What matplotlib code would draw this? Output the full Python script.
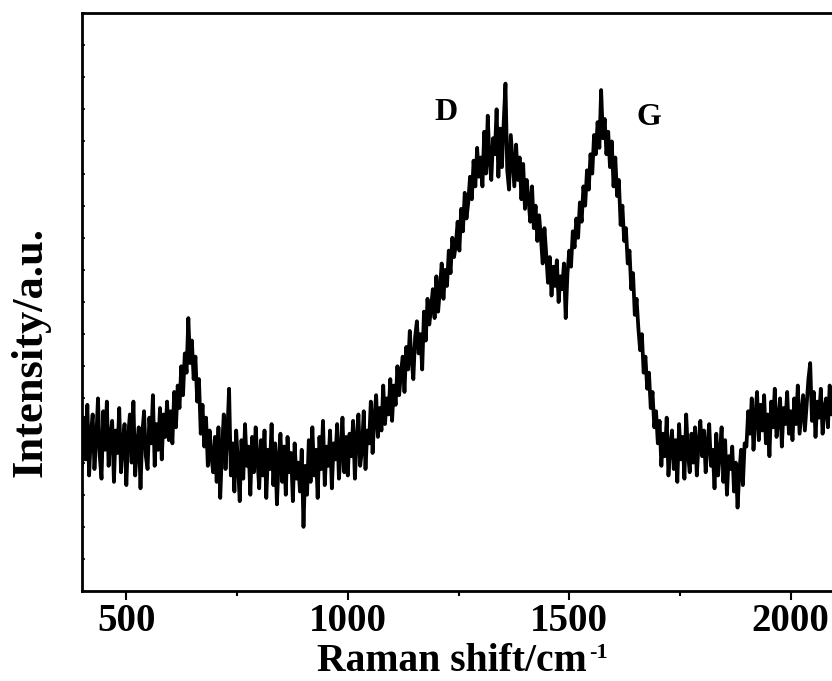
import numpy as np
import matplotlib
matplotlib.use("Agg")
import matplotlib.pyplot as plt
from matplotlib.ticker import MultipleLocator

# Raman shift sampled every 4 cm-1, 400..2100
shift = np.arange(400, 2101, 4)

# intensity (a.u.), in 100 cm-1 chunks (25 pts each)
i400 = [3.9, 5.4, 4.1, 5.8, 3.6, 4.9, 5.5, 3.8, 4.7, 6.0, 4.2, 3.5, 5.6, 4.4, 5.9, 3.9, 4.8, 5.3, 3.4, 5.0, 4.3, 5.7, 3.7, 4.6, 5.2]
i500 = [3.3, 4.8, 5.5, 4.0, 5.9, 3.6, 4.5, 5.1, 3.2, 4.9, 5.6, 4.2, 3.8, 5.4, 4.6, 6.1, 3.9, 5.2, 4.4, 5.7, 4.1, 5.5, 4.8, 5.9, 4.7]
i600 = [5.6, 4.6, 6.2, 5.1, 6.4, 5.7, 7.0, 6.1, 7.4, 6.8, 8.5, 7.1, 7.8, 6.6, 7.3, 5.9, 6.6, 4.9, 5.8, 4.5, 5.4, 3.9, 5.0, 4.2, 3.7]
i700 = [4.8, 3.4, 5.1, 2.9, 4.4, 5.5, 3.8, 4.9, 6.3, 3.6, 4.6, 3.1, 5.0, 4.0, 2.8, 4.7, 3.5, 5.2, 3.9, 4.5, 3.0, 4.8, 3.7, 5.1, 4.1]
i800 = [3.2, 4.7, 3.6, 5.0, 2.9, 4.4, 3.8, 5.2, 3.3, 4.6, 2.7, 4.1, 4.9, 3.4, 4.5, 3.0, 4.8, 3.7, 4.3, 2.8, 4.6, 3.5, 4.0, 3.1, 4.4]
i900 = [2.0, 3.9, 3.0, 4.7, 3.4, 5.1, 3.6, 4.4, 2.9, 4.8, 3.8, 5.3, 3.3, 4.5, 3.9, 5.0, 3.2, 4.6, 4.1, 5.2, 3.5, 4.3, 5.4, 3.7, 4.8]
i1000 = [3.6, 4.9, 4.2, 5.3, 3.5, 4.7, 5.5, 3.9, 4.4, 5.6, 3.8, 5.0, 4.6, 5.9, 4.3, 5.4, 6.1, 4.8, 5.7, 5.0, 6.4, 5.2, 6.0, 5.5, 6.6]
i1100 = [5.3, 6.4, 5.8, 7.0, 6.1, 6.8, 7.3, 6.2, 7.6, 6.9, 8.1, 7.2, 6.6, 7.9, 8.4, 7.4, 8.0, 6.9, 8.7, 7.8, 9.1, 8.3, 8.8, 9.4, 8.5]
i1200 = [9.8, 8.7, 9.4, 10.2, 9.1, 10.0, 9.5, 10.6, 9.9, 11.0, 10.4, 10.8, 11.5, 10.6, 11.9, 11.2, 12.4, 11.6, 12.1, 12.9, 12.2, 13.4, 12.6, 13.8, 12.9]
i1300 = [13.5, 12.6, 14.3, 13.0, 14.8, 13.4, 12.8, 14.1, 13.6, 15.0, 12.9, 14.4, 13.2, 14.6, 15.8, 13.1, 12.5, 14.2, 13.4, 12.6, 13.9, 12.8, 13.5, 12.2, 13.3]
i1400 = [11.9, 12.8, 12.2, 11.5, 12.6, 11.3, 12.0, 10.9, 11.7, 11.0, 10.2, 11.3, 10.5, 9.6, 10.4, 9.2, 10.1, 9.5, 10.3, 9.0, 9.8, 9.4, 10.2, 8.5, 9.9]
i1500 = [10.6, 10.1, 11.2, 10.7, 11.6, 11.0, 12.1, 11.5, 12.6, 12.0, 13.1, 12.5, 13.6, 13.0, 14.2, 13.6, 14.6, 13.8, 15.6, 14.1, 14.7, 13.6, 14.3, 13.2, 14.0]
i1600 = [12.6, 13.5, 12.3, 12.8, 11.4, 12.0, 10.9, 11.3, 10.2, 10.6, 9.4, 9.9, 8.6, 9.1, 8.2, 7.5, 8.0, 6.8, 7.3, 6.3, 6.8, 5.7, 6.2, 5.1, 5.6]
i1700 = [4.6, 5.3, 3.9, 4.9, 4.2, 5.4, 3.6, 4.5, 5.0, 3.8, 4.7, 3.4, 5.2, 4.1, 4.8, 3.5, 5.5, 4.3, 3.7, 4.9, 4.0, 5.1, 3.6, 4.6, 5.3]
i1800 = [4.2, 5.0, 3.7, 4.6, 5.2, 3.9, 4.4, 3.2, 4.9, 3.6, 4.3, 5.1, 3.4, 4.7, 3.0, 4.2, 3.8, 4.5, 3.1, 4.0, 2.6, 3.7, 4.4, 3.3, 4.6]
i1900 = [4.5, 5.6, 4.9, 6.0, 4.4, 5.4, 6.2, 4.7, 5.8, 5.0, 6.1, 4.6, 5.5, 4.2, 5.9, 5.1, 6.3, 4.8, 5.3, 6.0, 4.5, 5.7, 5.2, 6.2, 4.9]
i2000 = [5.6, 4.7, 6.0, 5.2, 6.4, 4.9, 5.5, 6.1, 5.0, 5.8, 6.6, 7.1, 5.3, 6.2, 4.8, 5.9, 5.4, 6.3, 4.9, 5.7, 6.0, 5.1, 6.4, 5.5, 6.1, 5.2]

intensity = (i400 + i500 + i600 + i700 + i800 + i900 + i1000 + i1100 + i1200
             + i1300 + i1400 + i1500 + i1600 + i1700 + i1800 + i1900 + i2000)

peak_names = ['D', 'G']
peak_pos = [1222, 1680]
peak_y = [14.9, 14.75]

plt.rcParams['font.family'] = 'Liberation Serif'
plt.rcParams['font.weight'] = 'bold'

W, H = 832, 681
fig = plt.figure(figsize=(W / 100, H / 100), dpi=100)
ax = fig.add_axes([0.0986, 0.132, 0.905, 0.849])

ax.plot(shift, intensity, color='black', lw=2.7)

for name, x, y in zip(peak_names, peak_pos, peak_y):
    ax.text(x, y, name, fontsize=23, fontweight='bold', ha='center', va='center')

ax.set_xlim(400, 2100)
ax.set_ylim(0, 18)

ax.xaxis.set_major_locator(MultipleLocator(500))
ax.xaxis.set_minor_locator(MultipleLocator(250))
ax.yaxis.set_major_locator(MultipleLocator(1))
ax.tick_params(axis='x', which='major', direction='out', length=6.5, width=1.5,
               labelsize=28, pad=2)
ax.tick_params(axis='x', which='minor', direction='out', length=3.5, width=1.5)
ax.tick_params(axis='y', which='major', direction='in', length=2.5, width=1.2,
               labelleft=False)
for lab in ax.get_xticklabels():
    lab.set_fontweight('bold')

for s in ax.spines.values():
    s.set_linewidth(2.0)

# axis titles placed by hand (label sits below centre in the original)
fig.text(587 / W, (H - 671) / H, 'Raman shift/cm', fontsize=28.5, fontweight='bold',
         ha='right', va='baseline')
fig.text(589 / W, (H - 653) / H, '-1', fontsize=16, fontweight='bold',
         ha='left', va='center')
fig.text(31 / W, (H - 352) / H, 'Intensity/a.u.', fontsize=32, fontweight='bold',
         rotation=90, ha='center', va='center')

fig.savefig('out.png', dpi=100)
